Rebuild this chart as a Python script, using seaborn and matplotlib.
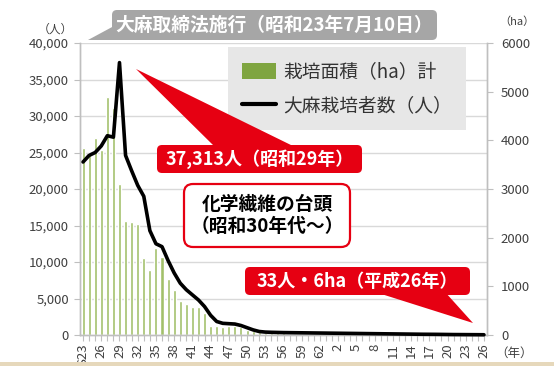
import numpy as np
import pandas as pd
import matplotlib
matplotlib.use("Agg")
import matplotlib.pyplot as plt
import seaborn as sns
from matplotlib.patches import FancyBboxPatch, Polygon, Rectangle, Patch
from matplotlib.lines import Line2D
from matplotlib.transforms import blended_transform_factory

# ---------------- data ----------------
years = list(range(1948, 2015))  # 昭和23年 .. 平成26年
area_ha = [3850, 3750, 4050, 3800, 4900, 4660, 3100,
           2350, 2320, 2280, 1580, 1340, 1780, 1610,
           1150, 915, 690, 640, 570, 570, 450,
           176, 176, 160, 185, 176, 160, 110,
           80, 60, 50, 45, 40, 35, 30, 28, 25, 22,
           20, 18, 17, 16, 15, 14, 13, 12, 12, 11,
           11, 10, 10, 10, 9, 9, 9, 8, 8, 8,
           8, 7, 7, 7, 7, 7, 6, 6, 6]
growers = [23700, 24600, 25000, 25900, 27300, 27100, 37313, 24600, 22500, 20500,
           19000, 14300, 12500, 12100, 10200, 8500, 7100, 6200, 5500, 4800,
           3900, 2700, 1850, 1600, 1550, 1500, 1300, 1000, 700, 480,
           400, 370, 350, 330, 320, 310, 300, 290, 280, 270,
           260, 250, 240, 230, 220, 210, 200, 190, 180, 170,
           160, 150, 140, 130, 120, 110, 100, 95, 90, 80,
           70, 60, 55, 50, 45, 40, 33]
tick_labels = ['S23', '26', '29', '32', '35', '38', '41', '44', '47', '50', '53', '56',
               '59', '62', '2', '5', '8', '11', '14', '17', '20', '23', '26']
left_ticks = [0, 5000, 10000, 15000, 20000, 25000, 30000, 35000, 40000]
right_ticks = [0, 1000, 2000, 3000, 4000, 5000, 6000]

series_area = '栽培面積（ha）計'
series_people = '大麻栽培者数（人）'

df = pd.DataFrame({'idx': np.arange(len(years)), 'year': years,
                   'area': area_ha, 'people': growers})

# ---------------- style ----------------
sns.set_theme(style='white')
plt.rcParams['font.family'] = ['Noto Sans CJK JP', 'DejaVu Sans']
TXT = '#404040'
GRID = '#d9d9d9'
SPINE = '#bfbfbf'
GREEN = '#a2c06a'
RED = '#e60012'

W, H = 554, 366
fig = plt.figure(figsize=(W / 100, H / 100), dpi=100)
fig.patch.set_facecolor('white')

L, R, T, B = 80, 487, 43, 335
ax_bar = fig.add_axes([L / W, 1 - B / H, (R - L) / W, (B - T) / H])
ax_line = ax_bar.twinx()

# bars (right axis, ha)
sns.barplot(data=df, x='idx', y='area', ax=ax_bar, color=GREEN, width=0.5,
            saturation=1, zorder=2)
ax_bar.set_ylim(0, 6000)
ax_bar.yaxis.tick_right()
ax_bar.set_yticks(right_ticks)
ax_bar.set_yticklabels([str(v) for v in right_ticks])

# line (left axis, people)
sns.lineplot(data=df, x='idx', y='people', ax=ax_line, color='black',
             linewidth=2.6, zorder=3)
ax_line.set_ylim(0, 40000)
ax_line.yaxis.tick_left()
ax_line.set_yticks(left_ticks)
ax_line.set_yticklabels([f'{v:,}' for v in left_ticks])
for ln in ax_line.lines:
    ln.set_clip_on(False)

ax_bar.set_xlim(-0.5, len(years) - 0.5)
major = list(range(0, len(years), 3))
ax_bar.set_xticks(major)
ax_bar.set_xticklabels(tick_labels, rotation=90, fontsize=9.5, color=TXT)
ax_bar.set_xticks(range(len(years)), minor=True)
ax_bar.tick_params(axis='x', which='both', length=4, width=0.8, color=SPINE,
                   direction='out', pad=2, bottom=True)

# gridlines at left-axis ticks, behind bars
gtrans = blended_transform_factory(ax_bar.transAxes, ax_line.transData)
ax_bar.hlines(left_ticks[1:], 0, 1, transform=gtrans, colors=GRID,
              linewidth=1, zorder=0)

for a in (ax_bar, ax_line):
    a.set_xlabel('')
    a.set_ylabel('')
    a.grid(False)
    for s in a.spines.values():
        s.set_color(SPINE)
        s.set_linewidth(1)
    a.spines['top'].set_visible(False)
ax_line.patch.set_visible(False)

ax_bar.tick_params(axis='y', which='both', length=4, width=0.8, color=SPINE,
                   direction='out', pad=6, labelsize=9.5, labelcolor=TXT,
                   right=True, left=False)
ax_line.tick_params(axis='y', which='both', length=4, width=0.8, color=SPINE,
                    direction='out', pad=4, labelsize=9.5, labelcolor=TXT,
                    left=True, right=False)

# legend
handles = [Patch(facecolor='#7fa540', edgecolor='none'),
           Line2D([0], [0], color='black', linewidth=3)]
leg = fig.legend(handles, [series_area, series_people], loc='upper left',
                 bbox_to_anchor=(228 / W, 1 - 47 / H), frameon=True,
                 fancybox=False, fontsize=13.5, handlelength=1.8,
                 handleheight=0.95, handletextpad=0.4, borderpad=0.75,
                 labelspacing=0.7, borderaxespad=0)
leg.get_frame().set_facecolor('#e7e7e7')
leg.get_frame().set_edgecolor('none')
leg.get_frame().set_alpha(1)
for t in leg.get_texts():
    t.set_color('#333333')

# ---------------- overlay annotations (pixel coords) ----------------
ov = fig.add_axes([0, 0, 1, 1], zorder=10)
ov.set_xlim(0, W)
ov.set_ylim(H, 0)
ov.axis('off')
ov.patch.set_alpha(0)

def rbox(x0, y0, x1, y1, fc, ec='none', lw=0, r=5):
    ov.add_patch(FancyBboxPatch((x0, y0), x1 - x0, y1 - y0,
                                boxstyle=f'round,pad=0,rounding_size={r}',
                                facecolor=fc, edgecolor=ec, linewidth=lw,
                                mutation_aspect=1))

# gray callout
GRAY = '#a6a6a6'
ov.add_patch(Polygon([(88, 40), (114, 26), (124, 40)], closed=True,
                     facecolor=GRAY, edgecolor='none'))
rbox(112, 10, 437, 40, GRAY, r=5)
ov.text(274, 25.5, '大麻取締法施行（昭和23年7月10日）', color='white',
        fontsize=13.5, fontweight='bold', ha='center', va='center')

# red callout 1
ov.add_patch(Polygon([(136, 69), (215, 147), (295, 147)], closed=True,
                     facecolor=RED, edgecolor='none'))
rbox(157, 145, 362, 173, RED, r=5)
ov.text(259.5, 159.5, '37,313人（昭和29年）', color='white', fontsize=13,
        fontweight='bold', ha='center', va='center')

# white box
rbox(184, 184, 350, 247, 'white', ec=RED, lw=1.6, r=9)
ov.text(267, 215.5, '化学繊維の台頭\n（昭和30年代～）', color='black',
        fontsize=13.5, fontweight='bold', ha='center', va='center',
        linespacing=1.25)

# red callout 2
ov.add_patch(Polygon([(375, 292), (445, 292), (473, 323)], closed=True,
                     facecolor=RED, edgecolor='none'))
rbox(245, 267, 470, 295, RED, r=5)
ov.text(357.5, 281.5, '33人・6ha（平成26年）', color='white', fontsize=13,
        fontweight='bold', ha='center', va='center')

# unit labels
ov.text(55, 29, '（人）', color=TXT, fontsize=8.5, ha='center', va='center')
ov.text(517, 22, '（ha）', color=TXT, fontsize=8, ha='center', va='center')
ov.text(514, 353, '（年）', color=TXT, fontsize=9, ha='center', va='center')

# bottom strip
ov.add_patch(Rectangle((0, 362), W, 4, facecolor='#e6d8bb', edgecolor='none'))

fig.savefig('out.png', dpi=100, facecolor='white')
